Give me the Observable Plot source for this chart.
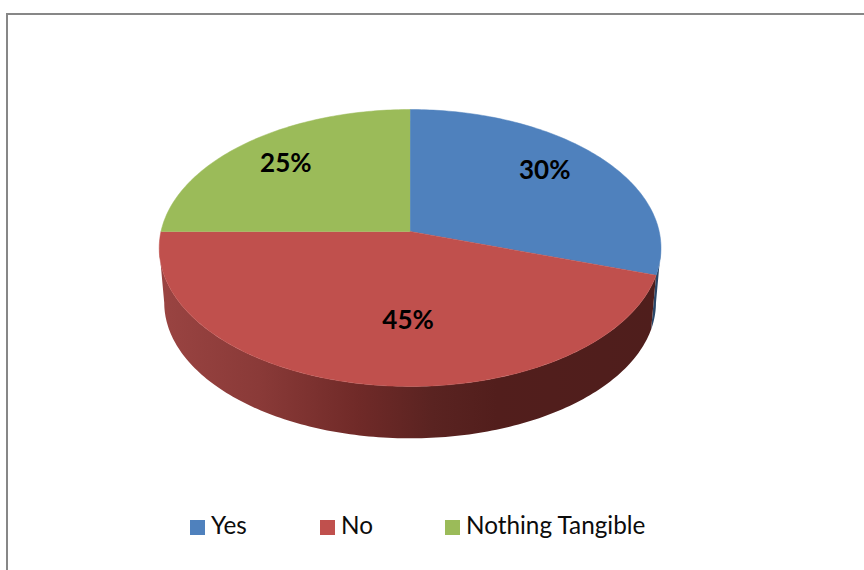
<!DOCTYPE html>
<html>
<head>
<meta charset="utf-8">
<script src="https://cdn.jsdelivr.net/npm/d3@7"></script>
<script src="https://cdn.jsdelivr.net/npm/@observablehq/plot@0.6"></script>
<style>
  html, body { margin: 0; padding: 0; background: #fff; overflow: hidden; width: 864px; height: 570px; }
  #frame { position: absolute; left: 6px; top: 13px; width: 900px; height: 600px; border: 2px solid #878787; box-sizing: border-box; }
  #chart { position: absolute; left: 0; top: 0; width: 864px; }
  #chart svg { display: block; }
  #legend { position: absolute; left: 190px; top: 510px; height: 30px; display: flex; align-items: center;
            font-family: Lato, sans-serif; font-size: 24.3px; color: #0c0c0c; line-height: 30px; }
  #legend .item { display: flex; align-items: center; }
  #legend .swatch { width: 15px; height: 15px; margin-right: 6px; margin-top: 4px; }
</style>
</head>
<body>
<div id="frame"></div>
<div id="chart"></div>
<div id="legend"></div>
<script>
// Survey answers
const categories = ["Yes", "No", "Nothing Tangible"];
const shares = [30, 45, 25];
const colors = ["#4f81bd", "#c0504d", "#9bbb59"];

// Pie tilted in perspective: tilt < 0 makes the near half of the disk larger
const tilt = -0.119;
const depth = 0.403;      // thickness of the disk, in vertical disk radii
const baseScale = 0.98;   // the underside recedes slightly
const step = Math.PI / 180;

const arcs = d3.pie().sort(null)(shares);

const project = (a, r = 1) => {
  const u = r * Math.sin(a), v = -r * Math.cos(a), w = 1 + tilt * v;
  return {x: u / w, y: v / w};
};
const rim = (a0, a1) => {
  const out = [];
  const n = Math.max(1, Math.ceil((a1 - a0) / step));
  for (let i = 0; i <= n; ++i) out.push(a0 + (a1 - a0) * i / n);
  return out;
};
const under = (a) => {
  const p = project(a);
  return {x: p.x * baseScale, y: p.y * baseScale + depth};
};

// Top face: one closed outline per slice
const slices = arcs.flatMap((arc, i) => [
  {name: categories[i], x: 0, y: 0},
  ...rim(arc.startAngle, arc.endAngle).map((a) => ({name: categories[i], ...project(a)}))
]);

// Visible wall runs between the two silhouette angles of the tilted rim
const tangent = Math.acos(tilt);
const wall = (a0, a1) => [
  ...rim(a0, a1).map((a) => project(a)),
  ...rim(a0, a1).reverse().map(under)
];
const blueEnd = arcs[0].endAngle;
const redEnd = 2 * Math.PI - tangent;
const wallBlue = wall(tangent, blueEnd);
const wallRed = wall(blueEnd, redEnd);

// Value labels sit at a fixed radius along each slice's middle angle
const labelRadius = 0.75;
const labelNudge = [[-9, -4], [30, -22], [0, 0]];
const labels = arcs.map((arc, i) => ({
  text: `${shares[i]}%`,
  ...project((arc.startAngle + arc.endAngle) / 2, labelRadius)
}));

const wallShade = () => {
  const defs = d3.create("svg:defs");
  const g = defs.append("linearGradient").attr("id", "wallShade")
    .attr("x1", "0").attr("x2", "1").attr("y1", "0").attr("y2", "0");
  [[0, "#9a4442"], [0.2, "#8a3a38"], [0.4, "#702a28"], [0.55, "#5a2321"], [0.68, "#521e1c"], [1, "#4f1e1c"]]
    .forEach(([o, c]) => g.append("stop").attr("offset", o).attr("stop-color", c));
  return defs.node();
};

const chart = Plot.plot({
  width: 864,
  height: 505,
  margin: 0,
  x: {domain: [-1, 1], range: [160.5, 658.7], axis: null},
  y: {domain: [-1, 1], range: [94.5, 367.5], axis: null},
  color: {domain: categories, range: colors},
  marks: [
    wallShade,
    Plot.line(wallBlue, {x: "x", y: "y", fill: "#2a4769", stroke: "none"}),
    Plot.line(wallRed, {x: "x", y: "y", fill: "url(#wallShade)", stroke: "none"}),
    Plot.line(slices, {x: "x", y: "y", z: "name", fill: "name", stroke: "name", strokeWidth: 0.5}),
    ...labels.map((d, i) => Plot.text([d], {
      x: "x", y: "y", text: "text",
      dx: labelNudge[i][0], dy: labelNudge[i][1],
      fontFamily: "Lato, sans-serif", fontWeight: "bold", fontSize: 26, fill: "#000"
    }))
  ]
});
document.getElementById("chart").append(chart);

// Legend row below the pie
const legend = d3.select("#legend");
const itemWidths = [130, 125, null];
categories.forEach((name, i) => {
  const item = legend.append("div").attr("class", "item");
  if (itemWidths[i]) item.style("width", itemWidths[i] + "px");
  item.append("div").attr("class", "swatch").style("background", colors[i]);
  item.append("span").text(name);
});
</script>
</body>
</html>
